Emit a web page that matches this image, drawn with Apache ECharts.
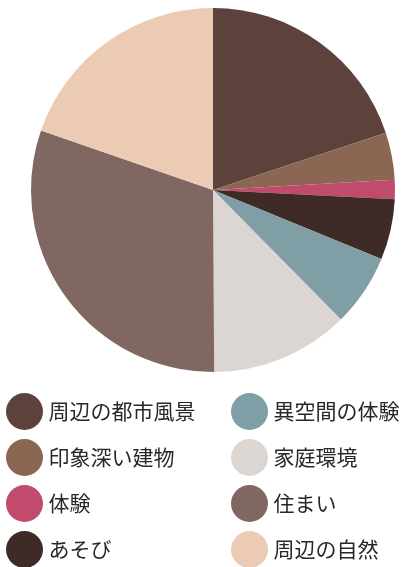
<!DOCTYPE html>
<html>
<head>
<meta charset="utf-8">
<style>
  html, body { margin: 0; padding: 0; background: #ffffff; }
  #chart { width: 402px; height: 567px; }
</style>
<script src="https://cdn.jsdelivr.net/npm/echarts@6/dist/echarts.min.js"></script>
</head>
<body>
<div id="chart"></div>
<script>
// Categories in clockwise order starting from 12 o'clock
const categories = ['周辺の都市風景', '印象深い建物', '体験', 'あそび', '異空間の体験', '家庭環境', '住まい', '周辺の自然'];
// Share of each category (%)
const shares = [19.9, 4.2, 1.7, 5.4, 6.4, 12.3, 30.4, 19.7];
const colors = ['#5c423b', '#8b6652', '#c04b6c', '#3e2b27', '#7f9ea5', '#dbd6d2', '#806762', '#ebcbb4'];

const legendLeft = categories.slice(0, 4);
const legendRight = categories.slice(4);

const chart = echarts.init(document.getElementById('chart'));
const legendBase = {
  orient: 'vertical',
  top: 393,
  height: 200,
  padding: 0,
  icon: 'circle',
  itemWidth: 38,
  itemHeight: 37,
  itemGap: 9,
  selectedMode: false,
  textStyle: { fontSize: 21, color: '#2b2727', fontFamily: 'Noto Sans CJK JP' }
};
chart.setOption({
  animation: false,
  color: colors,
  legend: [
    Object.assign({}, legendBase, { left: 6, data: legendLeft }),
    Object.assign({}, legendBase, { left: 231, data: legendRight })
  ],
  series: [{
    type: 'pie',
    center: [213, 190],
    radius: 182,
    startAngle: 90,
    clockwise: true,
    label: { show: false },
    labelLine: { show: false },
    itemStyle: { borderWidth: 0 },
    data: categories.map((name, i) => ({ name: name, value: shares[i] }))
  }]
});
</script>
</body>
</html>
